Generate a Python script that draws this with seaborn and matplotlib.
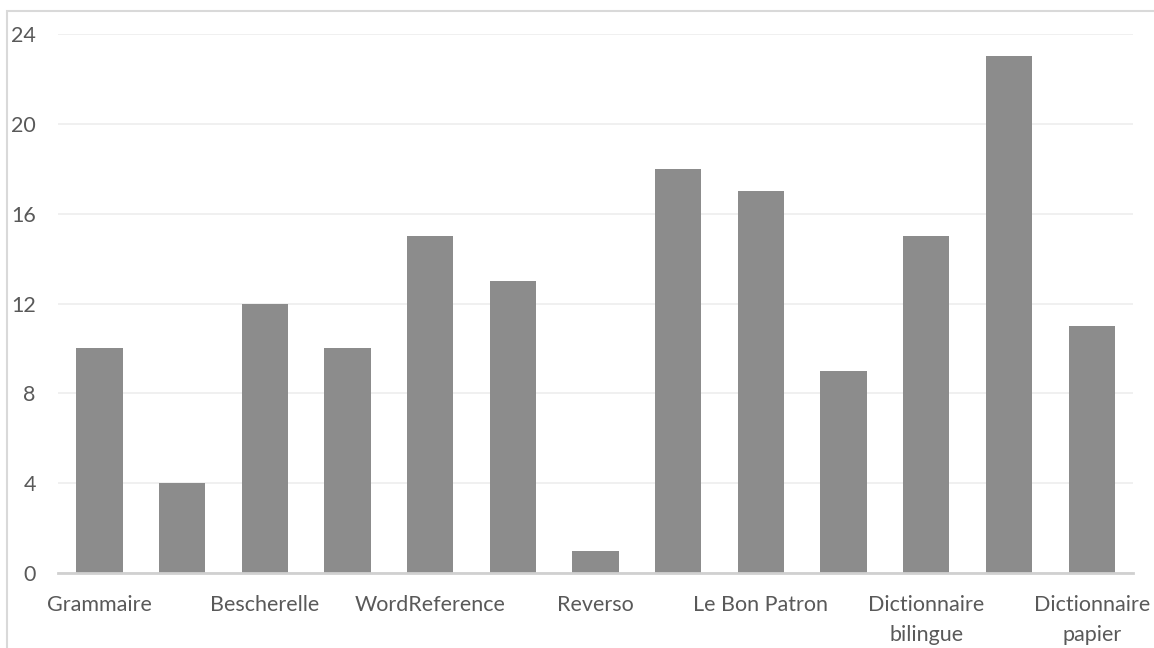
import pandas as pd
import matplotlib
matplotlib.use("Agg")
import matplotlib.pyplot as plt
import seaborn as sns
from matplotlib.patches import Rectangle

# Excel only showed every other category label
labels = ["Grammaire", "", "Bescherelle", "", "WordReference", "", "Reverso", "",
          "Le Bon Patron", "", "Dictionnaire\nbilingue", "", "Dictionnaire\npapier"]
values = [10, 4, 12, 10, 15, 13, 1, 18, 17, 9, 15, 23, 11]
y_ticks = [0, 4, 8, 12, 16, 20, 24]

df = pd.DataFrame({"pos": list(range(len(values))), "value": values})

sns.set_style("white")
plt.rcParams["font.family"] = ["Lato", "DejaVu Sans"]

fig = plt.figure(figsize=(11.54, 6.48), dpi=100)
W, H = 1154, 648
ax = fig.add_axes([58 / W, 1 - 573 / H, (1133 - 58) / W, (573 - 34) / H])

sns.barplot(data=df, x="pos", y="value", color="#8c8c8c", saturation=1,
            width=0.56, ax=ax, edgecolor="none")

ax.set_xlim(-0.5, len(values) - 0.5)
ax.set_ylim(0, 24)
ax.set_yticks(y_ticks)
ax.set_yticklabels([str(t) for t in y_ticks])
ax.set_xticks(range(len(labels)))
ax.set_xticklabels(labels, linespacing=1.6)
ax.grid(axis="y", color="#efefef", linewidth=1.3)
ax.set_axisbelow(True)
ax.set_xlabel("")
ax.set_ylabel("")

for s in ["top", "right", "left"]:
    ax.spines[s].set_visible(False)
ax.spines["bottom"].set_color("#d0d0d0")
ax.spines["bottom"].set_linewidth(2)
ax.spines["bottom"].set_zorder(5)

ax.tick_params(axis="both", length=0, colors="#595959", labelsize=15.5)
ax.tick_params(axis="y", pad=16)
ax.tick_params(axis="x", pad=16)

# chart area border, cut by the image edges
fig.patches.append(Rectangle((7 / W, -0.1), 1.2, 1 - 11 / H + 0.1,
                             transform=fig.transFigure, fill=False,
                             edgecolor="#d9d9d9", linewidth=1.5))

fig.savefig("out.png", dpi=100)
